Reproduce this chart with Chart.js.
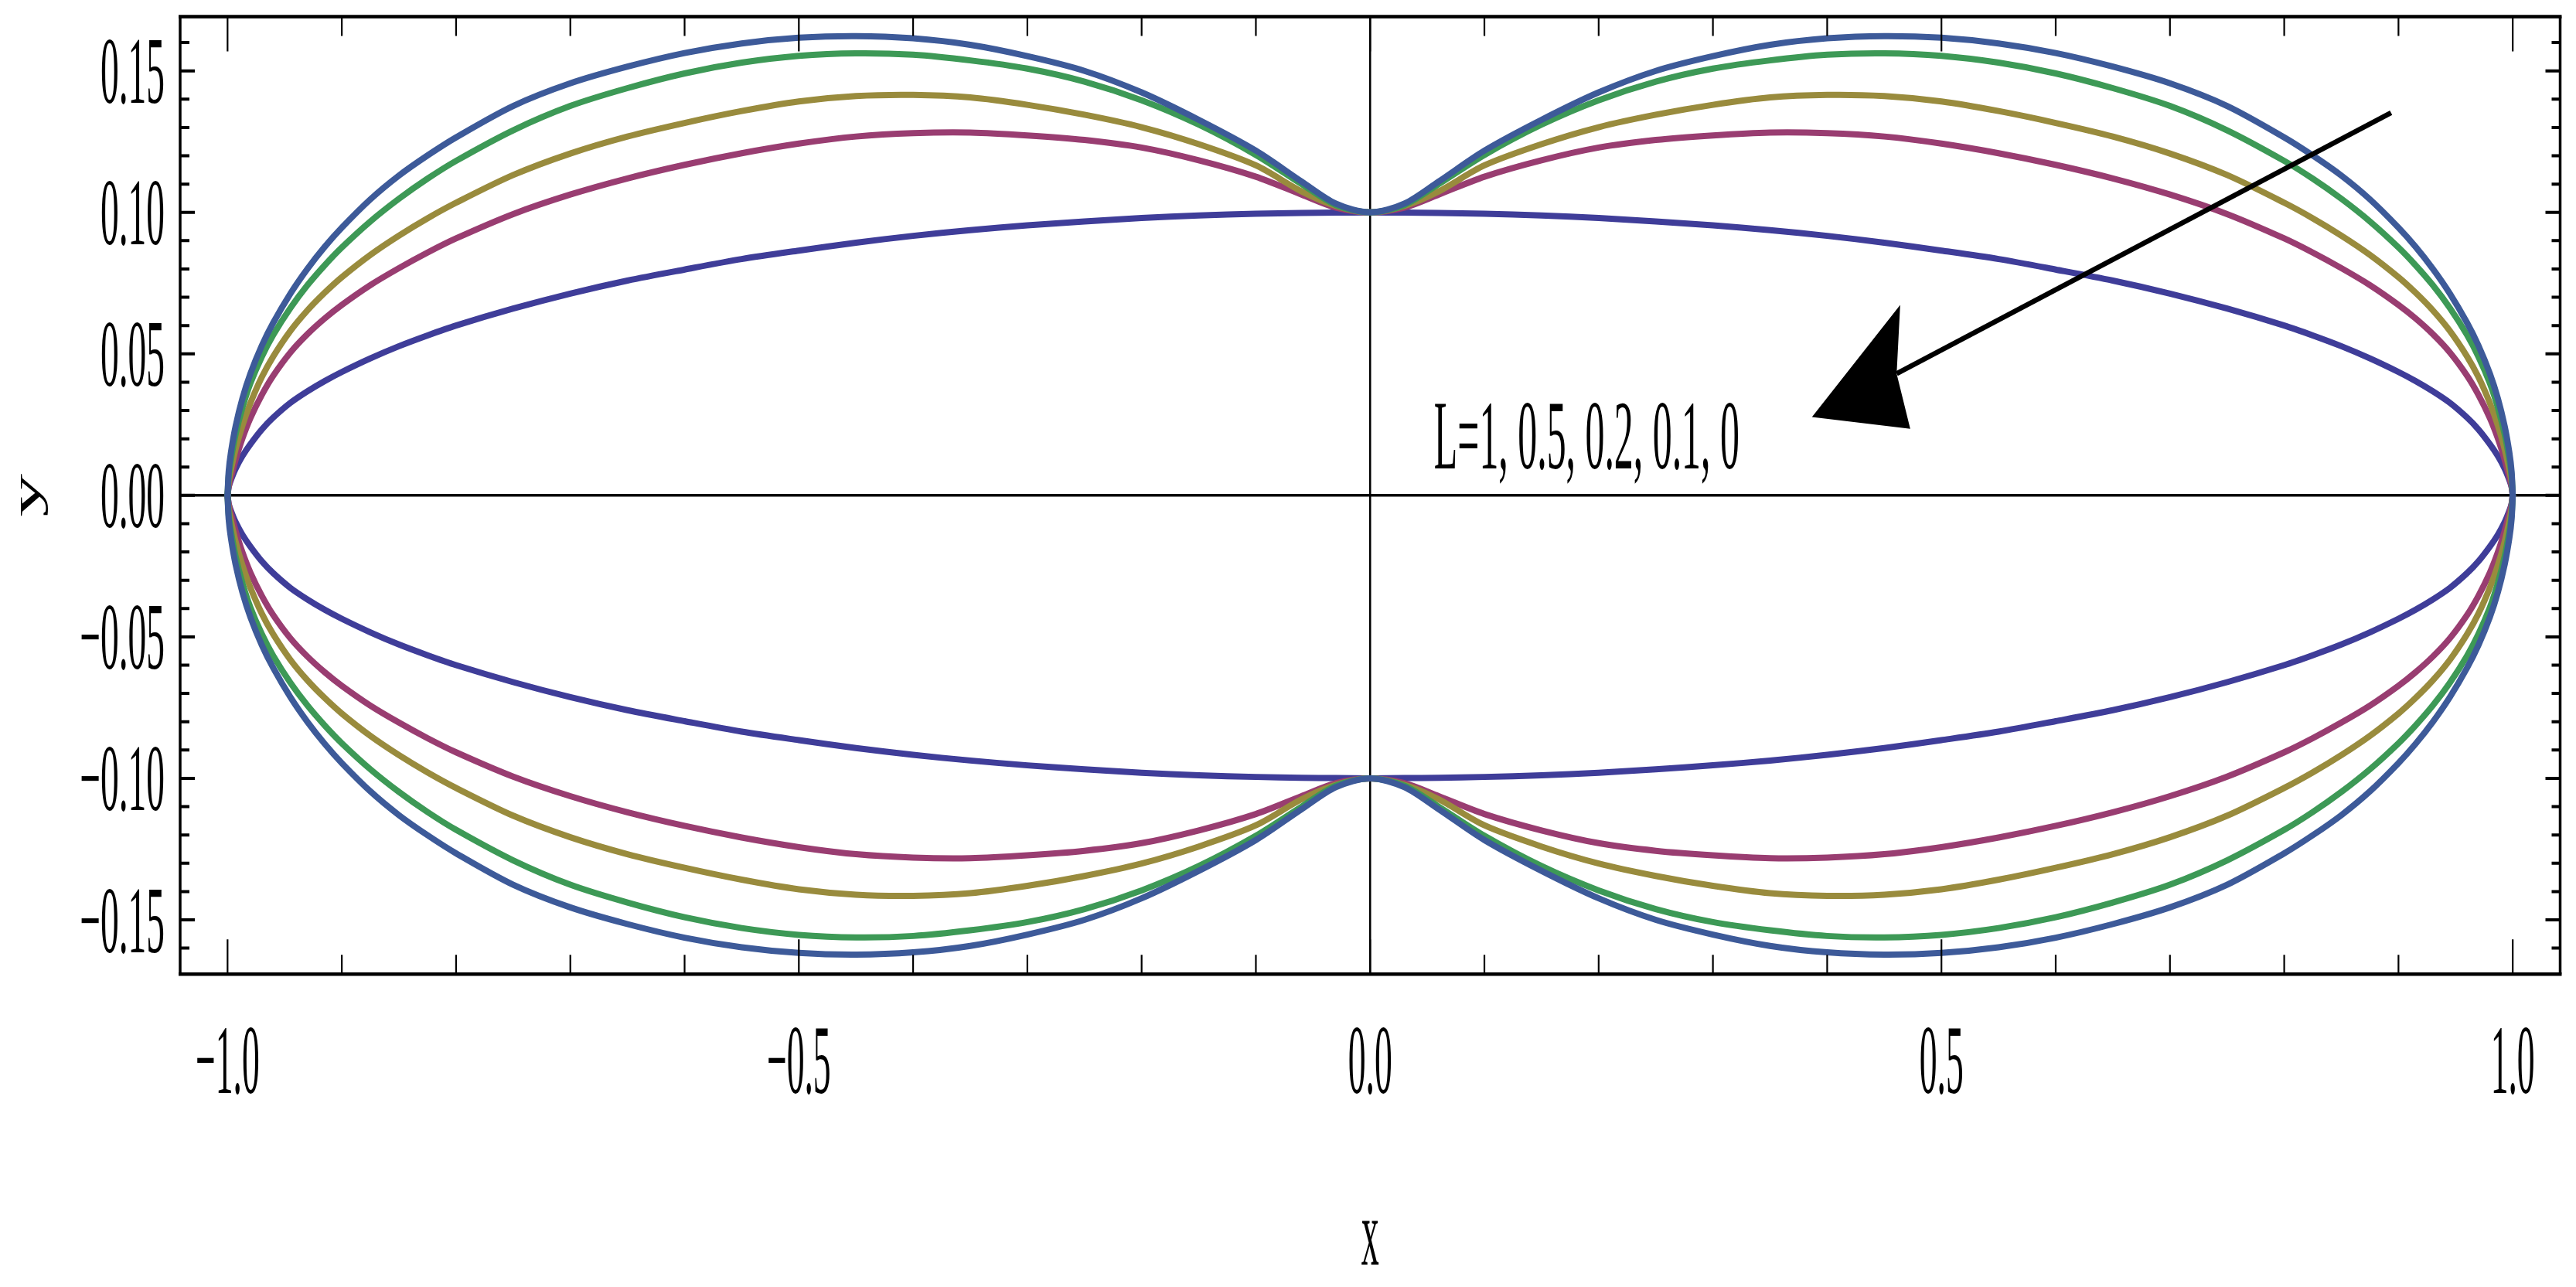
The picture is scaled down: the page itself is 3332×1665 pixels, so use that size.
<!DOCTYPE html>
<html>
<head>
<meta charset="utf-8">
<script src="https://cdn.jsdelivr.net/npm/chart.js@4.4.0/dist/chart.umd.min.js"></script>
<style>
  html, body { margin: 0; padding: 0; background: #fff; }
  #wrap { width: 3332px; height: 1665px; }
</style>
</head>
<body>
<div id="wrap"><canvas id="vorm" width="3332" height="1665"></canvas></div>
<script>
// x values of the right half; the figure is mirrored in both axes
const xHalf = [0, 0.03, 0.06, 0.1, 0.15, 0.2, 0.25, 0.3, 0.35, 0.4, 0.45, 0.5, 0.55, 0.6, 0.65, 0.7, 0.75, 0.8,
               0.825, 0.85, 0.875, 0.9, 0.915, 0.93, 0.945, 0.96, 0.97, 0.98, 0.987, 0.993, 0.997, 0.999, 1];

// upper half y values per curve
const yL1  = [0.100, 0.1031, 0.1109, 0.1218, 0.1327, 0.1424, 0.1500, 0.1552, 0.1592, 0.1615, 0.1623, 0.1617, 0.1597, 0.1563, 0.1515, 0.1456, 0.1376, 0.1265,
              0.1201, 0.1130, 0.1046, 0.0946, 0.0878, 0.0801, 0.0713, 0.0610, 0.0529, 0.0430, 0.0342, 0.0243, 0.0152, 0.0084, 0];
const yL05 = [0.100, 0.1026, 0.1100, 0.1203, 0.1310, 0.1396, 0.1462, 0.1508, 0.1537, 0.1557, 0.1562, 0.1553, 0.1529, 0.1491, 0.1439, 0.1376, 0.1290, 0.1182,
              0.1119, 0.1048, 0.0968, 0.0876, 0.0813, 0.0743, 0.0662, 0.0567, 0.0490, 0.0396, 0.0310, 0.0215, 0.0128, 0.0069, 0];
const yL02 = [0.100, 0.1023, 0.1074, 0.1166, 0.1241, 0.1301, 0.1345, 0.1380, 0.1406, 0.1415, 0.1411, 0.1392, 0.1358, 0.1316, 0.1268, 0.1208, 0.1132, 0.1034,
              0.0979, 0.0918, 0.0850, 0.0771, 0.0716, 0.0654, 0.0581, 0.0491, 0.0418, 0.0326, 0.0247, 0.0163, 0.0091, 0.0047, 0];
const yL01 = [0.100, 0.1017, 0.1063, 0.1126, 0.1184, 0.1229, 0.1256, 0.1272, 0.1282, 0.1280, 0.1268, 0.1243, 0.1209, 0.1168, 0.1120, 0.1063, 0.0994, 0.0908,
              0.0858, 0.0803, 0.0743, 0.0673, 0.0625, 0.0570, 0.0505, 0.0423, 0.0355, 0.0273, 0.0201, 0.0125, 0.0064, 0.0031, 0];
const yL0  = [0.100, 0.0999, 0.0998, 0.0995, 0.0989, 0.0980, 0.0968, 0.0954, 0.0937, 0.0917, 0.0893, 0.0865, 0.0835, 0.0798, 0.0759, 0.0713, 0.0660, 0.0600,
              0.0565, 0.0527, 0.0484, 0.0436, 0.0404, 0.0368, 0.0327, 0.0275, 0.0233, 0.0181, 0.0139, 0.0094, 0.0055, 0.0030, 0];

const seriesNames  = ['L=1', 'L=0.5', 'L=0.2', 'L=0.1', 'L=0'];
const seriesValues = [yL1, yL05, yL02, yL01, yL0];
const seriesColors = ['#3D5A99', '#3D9956', '#998B3D', '#993D71', '#3F3D99'];

// tick labels
const xTickValues = [-1, -0.5, 0, 0.5, 1];
const xTickLabels = ['\u22121.0', '\u22120.5', '0.0', '0.5', '1.0'];
const yTickValues = [-0.15, -0.1, -0.05, 0, 0.05, 0.1, 0.15];
const yTickLabels = ['\u22120.15', '\u22120.10', '\u22120.05', '0.00', '0.05', '0.10', '0.15'];

// annotation (data coordinates)
const noteText = 'L=1, 0.5, 0.2, 0.1, 0';
const notePos = [0.0559, 0.0094];
const arrowTail = [0.8935, 0.1352];
const arrowJoin = [0.4608, 0.0430];
const arrowTip = [0.3867, 0.0277];
const arrowBackTop = [0.4639, 0.0673];
const arrowBackBottom = [0.4727, 0.0235];

const FONT = '"Liberation Serif", "Times New Roman", serif';

// one half of a curve, from x=-1 to x=1; sign -1 gives the lower half
function halfCurve(yHalf, sign) {
    const pts = [];
    for (let i = xHalf.length - 1; i > 0; i--) pts.push({ x: -xHalf[i], y: sign * yHalf[i] });
    for (let i = 0; i < xHalf.length; i++) pts.push({ x: xHalf[i], y: sign * yHalf[i] });
    return pts;
}

const datasets = [];
seriesValues.forEach((vals, i) => {
    [1, -1].forEach(sign => {
        datasets.push({
            label: seriesNames[i],
            data: halfCurve(vals, sign),
            showLine: true,
            borderColor: seriesColors[i],
            borderWidth: 8,
            borderCapStyle: 'round',
            borderJoinStyle: 'round',
            tension: 0.3,
            pointRadius: 0,
            fill: false,
            order: i
        });
    });
});

// text squeezed horizontally like the original
function squeezedText(ctx, text, x, y, size, sx, align) {
    ctx.save();
    ctx.translate(x, y);
    ctx.scale(sx, 1);
    ctx.font = size + 'px ' + FONT;
    ctx.textAlign = align;
    ctx.textBaseline = 'alphabetic';
    ctx.fillText(text, 0, 0);
    ctx.restore();
}

function widthAt(ctx, text, size) {
    ctx.font = size + 'px ' + FONT;
    return ctx.measureText(text).width;
}

const isMultiple = (v, step) => Math.abs(v / step - Math.round(v / step)) < 1e-6;

const framePlugin = {
    id: 'frame',
    beforeDatasetsDraw(chart) {
        const { ctx, chartArea: a, scales: { x, y } } = chart;
        ctx.save();
        ctx.strokeStyle = '#000';
        const x0 = x.getPixelForValue(0);
        const y0 = y.getPixelForValue(0);
        ctx.lineWidth = 2.5;
        ctx.beginPath(); ctx.moveTo(x0, a.top); ctx.lineTo(x0, a.bottom); ctx.stroke();
        ctx.lineWidth = 3.5;
        ctx.beginPath(); ctx.moveTo(a.left, y0); ctx.lineTo(a.right, y0); ctx.stroke();
        ctx.restore();
    },
    afterDatasetsDraw(chart) {
        const { ctx, chartArea: a, scales: { x, y } } = chart;
        ctx.save();
        ctx.strokeStyle = '#000';
        ctx.fillStyle = '#000';

        // --- ticks on all four sides ---
        ctx.lineWidth = 2.2;
        x.ticks.forEach(t => {
            if (!isMultiple(t.value, 0.1)) return;
            const len = isMultiple(t.value, 0.5) ? 45 : 25;
            const px = x.getPixelForValue(t.value);
            ctx.beginPath();
            ctx.moveTo(px, a.bottom); ctx.lineTo(px, a.bottom - len);
            ctx.moveTo(px, a.top); ctx.lineTo(px, a.top + len);
            ctx.stroke();
        });
        ctx.lineWidth = 4;
        y.ticks.forEach(t => {
            if (!isMultiple(t.value, 0.01)) return;
            const major = isMultiple(t.value, 0.05);
            const py = y.getPixelForValue(t.value);
            ctx.beginPath();
            ctx.moveTo(a.left, py); ctx.lineTo(a.left + (major ? 19 : 12), py);
            ctx.moveTo(a.right, py); ctx.lineTo(a.right - (major ? 19 : 11), py);
            ctx.stroke();
        });

        // --- frame ---
        ctx.lineWidth = 3.5;
        ctx.beginPath();
        ctx.moveTo(a.left, a.top); ctx.lineTo(a.left, a.bottom);
        ctx.moveTo(a.right, a.top); ctx.lineTo(a.right, a.bottom);
        ctx.stroke();
        ctx.lineWidth = 4.5;
        ctx.beginPath();
        ctx.moveTo(a.left - 2, a.top); ctx.lineTo(a.right + 2, a.top);
        ctx.moveTo(a.left - 2, a.bottom); ctx.lineTo(a.right + 2, a.bottom);
        ctx.stroke();

        // --- tick labels ---
        const ySize = 123;
        const ySx = 83 / widthAt(ctx, '0.15', ySize);
        yTickValues.forEach((v, i) => {
            squeezedText(ctx, yTickLabels[i], a.left - 20, y.getPixelForValue(v) + 41.5, ySize, ySx, 'right');
        });
        const xSize = 127;
        const xSx = 57 / widthAt(ctx, '0.0', xSize);
        xTickValues.forEach((v, i) => {
            squeezedText(ctx, xTickLabels[i], x.getPixelForValue(v), a.bottom + 154, xSize, xSx, 'center');
        });

        // --- axis titles ---
        squeezedText(ctx, 'x', x.getPixelForValue(0), a.bottom + 376, 122, 23 / widthAt(ctx, 'x', 122), 'center');
        ctx.save();
        ctx.translate(50.6, y.getPixelForValue(0));
        ctx.rotate(-Math.PI / 2);
        ctx.scale(56 / widthAt(ctx, 'y', 52), 1);
        ctx.font = '52px ' + FONT;
        ctx.textAlign = 'center';
        ctx.textBaseline = 'alphabetic';
        ctx.fillText('y', 0, 0);
        ctx.restore();

        // --- annotation: text and arrow ---
        const nSize = 127;
        squeezedText(ctx, noteText, x.getPixelForValue(notePos[0]), y.getPixelForValue(notePos[1]),
            nSize, 395 / widthAt(ctx, noteText, nSize), 'left');

        const P = p => [x.getPixelForValue(p[0]), y.getPixelForValue(p[1])];
        const tail = P(arrowTail), join = P(arrowJoin), tip = P(arrowTip);
        const bt = P(arrowBackTop), bb = P(arrowBackBottom);
        ctx.lineWidth = 6.5;
        ctx.lineCap = 'butt';
        ctx.beginPath(); ctx.moveTo(tail[0], tail[1]); ctx.lineTo(join[0], join[1]); ctx.stroke();
        ctx.beginPath();
        ctx.moveTo(tip[0], tip[1]);
        ctx.lineTo(bt[0], bt[1]);
        ctx.lineTo(join[0], join[1]);
        ctx.lineTo(bb[0], bb[1]);
        ctx.closePath();
        ctx.fill();

        ctx.restore();
    }
};

const hiddenAxis = (min, max, step) => ({
    type: 'linear',
    min: min,
    max: max,
    ticks: { display: false, stepSize: step, includeBounds: false },
    grid: { display: false, drawTicks: false },
    border: { display: false }
});

new Chart(document.getElementById('vorm'), {
    type: 'scatter',
    data: { datasets: datasets },
    options: {
        responsive: false,
        animation: false,
        devicePixelRatio: 1,
        layout: { padding: { left: 233, right: 20.5, top: 21.4, bottom: 404.7 } },
        plugins: { legend: { display: false }, tooltip: { enabled: false } },
        scales: {
            x: hiddenAxis(-1.0415, 1.0415, 0.1),
            y: hiddenAxis(-0.1692, 0.1692, 0.01)
        }
    },
    plugins: [framePlugin]
});
</script>
</body>
</html>
